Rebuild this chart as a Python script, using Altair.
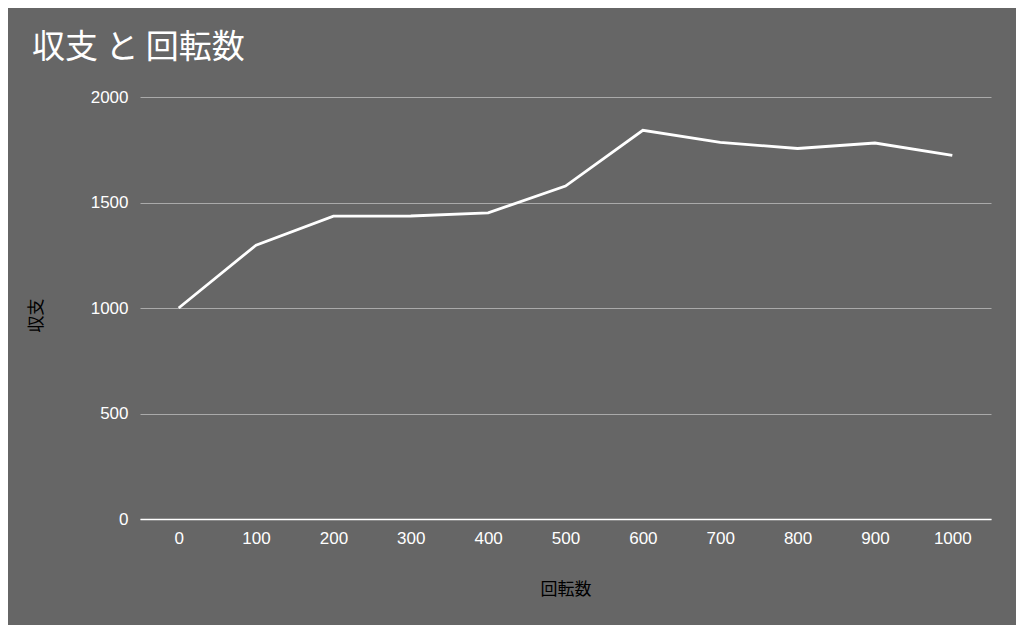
import altair as alt
import pandas as pd

spins = [0, 100, 200, 300, 400, 500, 600, 700, 800, 900, 1000]
balance = [1000, 1298, 1435, 1436, 1451, 1578, 1842, 1785, 1756, 1782, 1723]
y_ticks = [0, 500, 1000, 1500, 2000]

df = pd.DataFrame({"回転数": spins, "収支": balance})

JP = "Noto Sans CJK JP"
LAT = "Liberation Sans"

chart = (
    alt.Chart(df, title=alt.Title(
        "収支 と 回転数", anchor="start", frame="group", dx=-108, offset=23,
        font=JP, fontSize=33, fontWeight="normal", color="#ffffff"))
    .mark_line(color="#ffffff", strokeWidth=2.8)
    .encode(
        x=alt.X("回転数:O", sort=spins,
                scale=alt.Scale(type="point", padding=0.5),
                axis=alt.Axis(labelAngle=0, labelColor="#ffffff", labelFont=LAT, labelFontSize=17,
                              labelPadding=11, ticks=False, domainColor="#ffffff", domainWidth=1.5,
                              grid=False, title="回転数", titleColor="#000000", titleFont=JP,
                              titleFontSize=17, titleFontWeight="normal",
                              titleBaseline="middle", titleY=70)),
        y=alt.Y("収支:Q", scale=alt.Scale(domain=[0, 2000]),
                axis=alt.Axis(values=y_ticks, format="d", labelColor="#ffffff", labelFont=LAT,
                              labelFontSize=17, labelPadding=12, ticks=False, domain=False, grid=True,
                              gridColor="#aaaaaa", gridWidth=1,
                              title="収支", titleColor="#000000", titleFont=JP,
                              titleFontSize=17, titleFontWeight="normal",
                              titleX=-95, titleY=218)),
    )
    .properties(width=851, height=422, background="#666666",
                padding={"left": 132, "top": 89, "right": 25, "bottom": 106},
                autosize=alt.AutoSizeParams(type="none"))
    .configure_view(stroke=None, fill="#666666")
)

chart.save("out.html", embed_options={"renderer": "svg", "actions": False})
